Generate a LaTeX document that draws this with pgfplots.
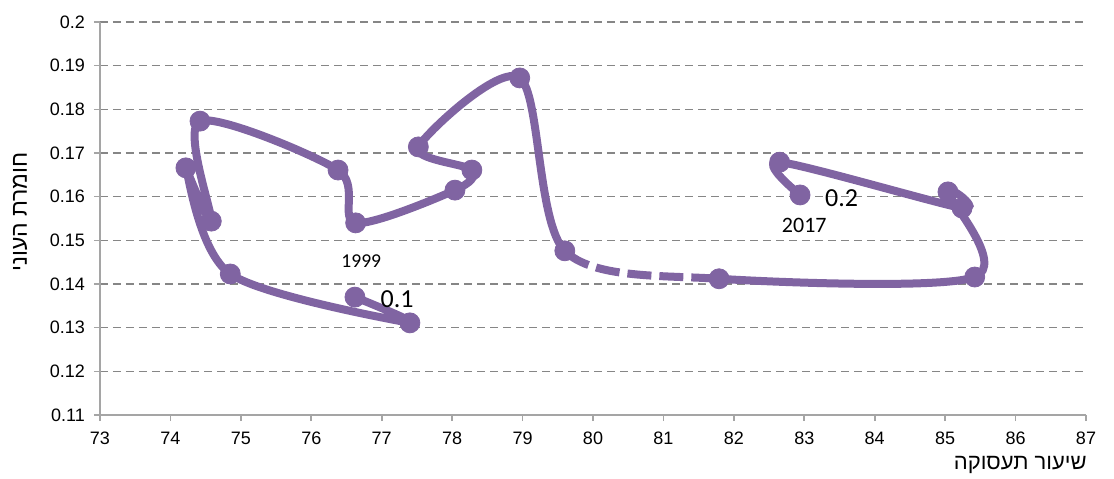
\documentclass[border=0pt]{standalone}
\usepackage{fontspec}
\setmainfont{Liberation Sans}
\newfontfamily\hebfont[Script=Hebrew]{Liberation Sans}
\newfontfamily\lblfont{Carlito}
\TeXXeTstate=1
\usepackage{pgfplots}
\usepackage{pgfplotstable}
\pgfplotsset{compat=1.18}
\definecolor{linepurple}{RGB}{128,100,162}
\definecolor{gridgray}{RGB}{134,134,134}
\definecolor{axisgray}{RGB}{165,165,165}

\pgfplotstableread{
x y
76.62 0.1370
77.40 0.1311
74.85 0.1423
74.22 0.1666
74.58 0.1544
74.42 0.1773
76.38 0.1661
76.63 0.1540
78.04 0.1615
78.28 0.1661
77.52 0.1714
78.96 0.1872
79.60 0.1476
81.79 0.1412
85.42 0.1416
85.04 0.1611
85.24 0.1574
82.65 0.1679
82.94 0.1604
}\alldata

\pgfplotstableread{
x y
78.96 0.1872
79.60 0.1476
81.79 0.1412
85.42 0.1416
}\gapdata

\begin{document}
\begin{tikzpicture}
\begin{axis}[
  scale only axis, width=493pt, height=196.5pt,
  xmin=73, xmax=87, ymin=0.11, ymax=0.2,
  xtick={73,74,75,76,77,78,79,80,81,82,83,84,85,86,87},
  ytick={0.11,0.12,0.13,0.14,0.15,0.16,0.17,0.18,0.19,0.2},
  yticklabels={0.11,0.12,0.13,0.14,0.15,0.16,0.17,0.18,0.19,0.2},
  axis lines=left,
  axis line style={draw=axisgray, line width=0.8pt, -},
  tick style={draw=axisgray, line width=0.8pt},
  major tick length=3pt, tick align=outside,
  ymajorgrids,
  grid style={draw=gridgray, line width=0.75pt, dash pattern=on 4pt off 2.5pt},
  ticklabel style={font=\fontsize{9}{10}\selectfont},
  /pgf/number format/assume math mode=true,
  xticklabel style={yshift=-2pt},
  yticklabel style={xshift=-1pt},
  xlabel={\hebfont\beginR שיעור תעסוקה\endR},
  xlabel style={at={(axis description cs:1,0)}, anchor=east, inner sep=0pt, yshift=-25pt, xshift=0.5pt, font=\fontsize{11}{12}\selectfont},
  ylabel={\hebfont\beginR חומרת העוני\endR},
  ylabel style={at={(axis description cs:-0.081,0.5165)}, anchor=center, inner sep=0pt, font=\fontsize{11.5}{13}\selectfont},
  clip=false,
]
\addplot[linepurple, line width=4pt, smooth, no marks] table {\alldata};
\begin{scope}
\clip (axis cs:79.62,0.11) rectangle (axis cs:81.77,0.1474);
\addplot[white, line width=5.2pt, smooth, no marks] table {\gapdata};
\addplot[linepurple, line width=4pt, smooth, no marks, dash pattern=on 12pt off 4pt, dash phase=4pt] table {\gapdata};
\end{scope}
\addplot[only marks, mark=*, mark size=5pt, linepurple] table {\alldata};
\node[anchor=west, inner sep=0pt, font=\lblfont\fontsize{13}{15}\selectfont] at (axis cs:76.98,0.1366) {0.1};
\node[inner sep=0pt, font=\lblfont\fontsize{9.8}{11}\selectfont] at (axis cs:76.71,0.1452) {1999};
\node[anchor=west, inner sep=0pt, font=\lblfont\fontsize{13}{15}\selectfont] at (axis cs:83.29,0.1596) {0.2};
\node[inner sep=0pt, font=\lblfont\fontsize{11}{13}\selectfont] at (axis cs:83.0,0.1534) {2017};
\end{axis}
\pgfresetboundingbox
\path (-50pt,-31.5pt) rectangle (507pt,207.5pt);
\end{tikzpicture}
\end{document}
